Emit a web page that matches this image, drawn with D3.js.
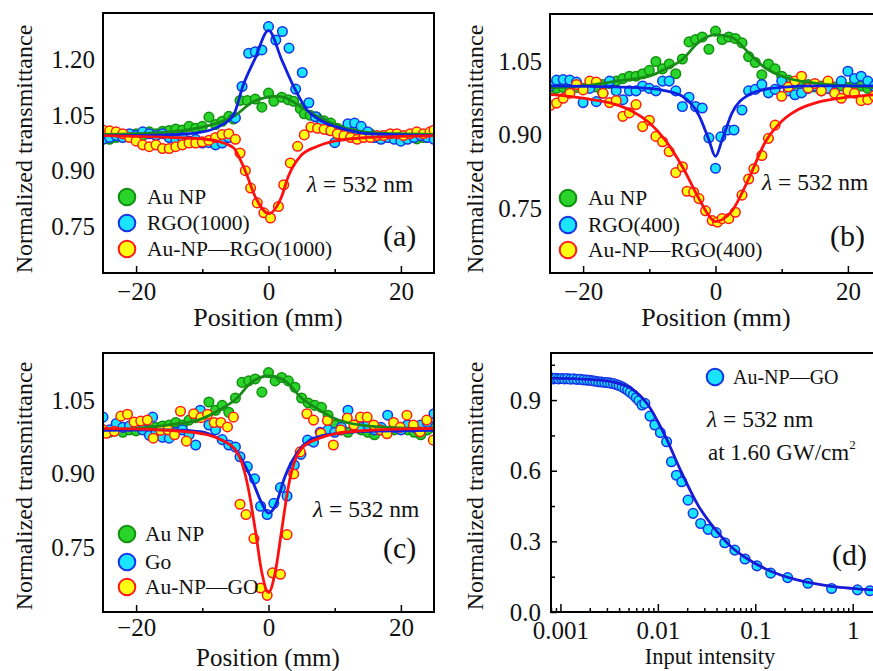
<!DOCTYPE html>
<html>
<head>
<meta charset="utf-8">
<script src="https://cdn.jsdelivr.net/npm/d3@7"></script>
<style>
  body { margin: 0; background: #fff; }
  svg { display: block; }
</style>
</head>
<body>
<svg id="fig" width="873" height="671"></svg>
<script>
// ---------- Panel (a): Au NP, RGO(1000), Au-NP—RGO(1000) ----------
const aAuNP = [[-25,0.99],[-24,0.985],[-23,0.99],[-22,0.998],[-21,0.995],[-20,1.0],[-19,0.995],[-18,1.005],[-17,1.0],[-16,1.007],[-15,1.009],[-14,1.013],[-13,1.01],[-12,1.02],[-11,1.015],[-10,1.02],[-9,1.045],[-8,1.025],[-7,1.034],[-6,1.047],[-5.3,1.04],[-4.3,1.09],[-3.2,1.09],[-2,1.094],[-1,1.072],[0,1.11],[0.8,1.088],[2,1.099],[3,1.092],[3.8,1.088],[4.8,1.068],[5.4,1.054],[6.3,1.05],[7.3,1.045],[8.4,1.035],[9.4,1.029],[10.4,1.015],[11.4,1.01],[12.4,1.005],[13.4,1.0],[14.4,0.995],[15.4,1.0],[16.4,0.99],[17.4,0.995],[18.4,0.99],[19.4,0.987],[20.4,0.99],[21.4,0.995],[22.4,0.986],[23.4,0.99],[24.4,0.993]];
const aRGO = [[-25,0.985],[-24,0.99],[-23,0.995],[-22,0.99],[-21,1.0],[-20,0.995],[-19,1.005],[-18,1.0],[-17,0.995],[-16,1.0],[-15,0.99],[-14,0.985],[-13,0.99],[-12,0.98],[-11,0.985],[-10,0.975],[-9,0.976],[-8,0.97],[-7,0.975],[-6,0.99],[-5,1.043],[-4,1.128],[-3,1.218],[-2,1.222],[-1,1.227],[0,1.29],[1.1,1.254],[2.1,1.277],[3.1,1.232],[4.1,1.121],[5.1,1.166],[6.1,1.084],[7.1,1.046],[8.1,1.03],[9.1,1.01],[10,0.976],[11,0.995],[12,1.027],[13,1.029],[14,1.02],[15,1.005],[16,0.99],[17,0.985],[18,0.99],[19,0.985],[20,0.98],[21,0.985],[22,0.99],[23,0.995],[24,0.99],[25,0.985]];
const aHybrid = [[-25,1.01],[-24,1.008],[-23,1.005],[-22,1.0],[-21,0.99],[-20,0.98],[-19,0.97],[-18,0.965],[-17,0.97],[-16,0.96],[-15,0.96],[-14,0.965],[-13,0.97],[-12,0.975],[-11,0.975],[-10,0.978],[-9,0.982],[-8,0.99],[-7,0.998],[-6,1.0],[-5,0.985],[-4.3,0.948],[-3.5,0.9],[-2.7,0.853],[-1.7,0.813],[-0.7,0.786],[0.3,0.772],[1.5,0.803],[2.3,0.862],[3.3,0.921],[4.4,0.966],[5.4,0.997],[6.4,1.018],[7.4,1.015],[8.4,1.012],[9.4,1.008],[10.4,1.0],[11.4,0.995],[12.4,0.99],[13.4,0.985],[14.4,0.99],[15.4,0.99],[16.4,0.995],[17.4,0.995],[18.4,1.0],[19.4,1.0],[20.4,0.995],[21.4,1.0],[22.4,1.005],[23.4,1.0],[24.4,1.005],[25,1.01]];
const aAuNPFit = [[-25,0.998],[-20,1.0],[-15,1.005],[-12.5,1.01],[-10,1.018],[-7.5,1.03],[-5,1.05],[-2.5,1.085],[0,1.1],[1,1.102],[2.5,1.098],[5,1.072],[7.5,1.046],[10,1.025],[12.5,1.011],[15,1.004],[20,1.0],[25,0.998]];
const aRGOFit = [[-25,0.995],[-15,0.997],[-10,1.005],[-7.5,1.02],[-5.3,1.05],[-3.8,1.133],[-2,1.205],[0,1.28],[2,1.2],[3.8,1.128],[5.8,1.065],[7.5,1.04],[10,1.02],[12.5,1.008],[15,1.0],[25,0.995]];
const aHybridFit = [[-25,0.995],[-20,0.993],[-15,0.99],[-10,0.986],[-7.5,0.979],[-5.3,0.962],[-3.8,0.912],[-1.8,0.822],[0,0.784],[2,0.831],[3,0.885],[4.8,0.939],[7.4,0.966],[9.9,0.98],[15,0.99],[20,0.993],[25,0.995]];

// ---------- Panel (b): Au NP, RGO(400), Au-NP—RGO(400) ----------
const bAuNP = [[-25,0.99],[-24,0.995],[-23,0.997],[-22,0.993],[-21,0.997],[-20,0.995],[-19,1.0],[-18,0.998],[-17,1.003],[-16,1.005],[-15,1.01],[-14,1.015],[-13,1.02],[-12,1.02],[-11,1.025],[-10,1.032],[-9,1.05],[-8,1.035],[-7,1.045],[-6,1.025],[-5,1.055],[-4,1.09],[-3,1.095],[-2,1.1],[-1,1.075],[0,1.112],[1,1.095],[2,1.1],[3,1.097],[4,1.088],[5,1.06],[6,1.048],[7,1.023],[8,1.045],[9,1.035],[10,1.02],[11,1.012],[12,1.005],[13,1.0],[14,1.003],[15,0.998],[16,1.0],[17,0.995],[18,0.998],[19,1.0],[20,0.997],[21,1.005],[22,1.0],[23,0.995],[24,0.998],[25,1.0]];
const bRGO = [[-25,1.0],[-24,1.012],[-23,1.013],[-22,1.012],[-21,1.008],[-20,0.966],[-19,0.995],[-18,0.968],[-17,0.985],[-16,1.01],[-15,0.99],[-14,0.972],[-13,0.99],[-12,0.99],[-11,1.0],[-10,0.995],[-9,0.99],[-8,1.01],[-7,1.01],[-6,0.99],[-5,0.958],[-4,0.977],[-3,0.958],[-2,0.955],[-1,0.894],[0,0.832],[0.8,0.896],[1.8,0.91],[2.8,0.91],[4,0.951],[5,0.99],[6,0.993],[7,1.003],[8,0.986],[9,0.993],[10,1.01],[11,0.99],[12,0.982],[13,0.986],[14,0.995],[15,1.0],[16,0.99],[17,0.995],[18,0.986],[19,1.01],[20,1.03],[21,1.015],[22,1.02],[23,1.01],[24,1.0],[25,1.005]];
const bHybrid = [[-25,0.96],[-24,0.965],[-23,0.975],[-22,0.985],[-21,1.003],[-20,0.992],[-19,1.01],[-18,1.008],[-17,0.985],[-16,0.966],[-15,0.97],[-14,0.938],[-13,0.945],[-12,0.962],[-11,0.917],[-10,0.93],[-9,0.897],[-8,0.886],[-7,0.866],[-6,0.823],[-5,0.835],[-4.3,0.785],[-3.3,0.783],[-2.5,0.77],[-1.5,0.745],[-0.5,0.725],[0.3,0.722],[1,0.729],[2,0.729],[3,0.742],[4,0.777],[5,0.81],[5.8,0.831],[7,0.858],[8,0.893],[9,0.92],[10,0.979],[11,0.998],[12,1.01],[13,1.02],[14,0.996],[15,1.005],[16,0.99],[17,1.01],[18,0.985],[19,0.975],[20,0.99],[21,0.985],[22,0.97],[23,0.972],[24,0.98],[25,0.985]];
const bAuNPFit = [[-25,0.996],[-20,1.0],[-15,1.01],[-10,1.02],[-7.5,1.035],[-5,1.054],[-2.5,1.09],[0,1.105],[2.5,1.099],[5,1.068],[7.5,1.037],[10,1.02],[15,1.006],[20,1.0],[25,0.996]];
const bRGOFit = [[-25,1.0],[-15,0.998],[-10,0.995],[-7.5,0.99],[-5,0.979],[-2.5,0.94],[-1,0.89],[0,0.856],[1,0.89],[2.5,0.945],[5,0.982],[7.5,0.993],[10,0.997],[15,1.0],[25,1.0]];
const bHybridFit = [[-25,0.983],[-20,0.975],[-15,0.962],[-12.5,0.948],[-10,0.925],[-7.5,0.888],[-5,0.835],[-2.5,0.77],[-1,0.735],[0,0.723],[1,0.727],[2.5,0.745],[5,0.81],[7.5,0.885],[10,0.928],[12.5,0.952],[15,0.965],[20,0.977],[25,0.983]];

// ---------- Panel (c): Au NP, GO, Au-NP—GO ----------
const cAuNP = [[-25,0.99],[-24,0.985],[-23,0.99],[-22,0.985],[-21,0.99],[-20,0.988],[-19,0.992],[-18,0.99],[-17,0.995],[-16,0.998],[-15,1.0],[-14,1.005],[-13,1.0],[-12,1.01],[-11,1.015],[-10,1.02],[-9,1.047],[-8,1.03],[-7,1.04],[-6,1.026],[-5,1.055],[-4,1.087],[-3,1.09],[-2,1.094],[-1,1.067],[0,1.107],[1,1.09],[2,1.097],[3,1.09],[4,1.077],[5,1.055],[6,1.045],[7,1.04],[8,1.036],[9,1.02],[10,1.0],[11,0.99],[12,0.985],[13,0.995],[14,0.99],[15,0.985],[16,0.98],[17,0.99],[18,0.985],[19,0.99],[20,0.995],[21,0.99],[22,0.985],[23,0.98],[24,0.99],[25,0.995]];
const cGO = [[-25,1.016],[-24,0.99],[-23,1.003],[-22,0.995],[-21,0.998],[-20,1.0],[-19,0.99],[-18,0.979],[-17.5,1.016],[-17,0.985],[-16,0.975],[-15,0.973],[-14,0.985],[-13,0.99],[-12,0.98],[-11,0.959],[-10.3,1.03],[-9,1.0],[-8,0.99],[-7,0.97],[-6,0.959],[-5,0.955],[-4.3,0.935],[-3.2,0.915],[-2.1,0.89],[-1.2,0.834],[-0.2,0.817],[0.8,0.84],[1.8,0.872],[2.8,0.855],[3.9,0.918],[4.9,0.94],[5.9,0.969],[6.8,0.965],[7.8,0.985],[9,0.99],[10,0.985],[11,0.995],[12,1.03],[13,1.0],[14,0.995],[15,1.0],[16,0.99],[17,0.995],[18,1.02],[19,0.995],[20,0.99],[21,1.0],[22,0.995],[23,1.0],[24,1.005],[25,1.023]];
const cHybrid = [[-25,0.99],[-24.5,0.983],[-23.3,0.987],[-22.3,1.018],[-21.3,1.022],[-20.3,1.006],[-19.3,1.008],[-18.3,1.01],[-17.4,0.973],[-16.3,0.989],[-15.2,0.99],[-14.2,0.98],[-13.3,1.028],[-12.4,0.967],[-11.3,1.023],[-10.2,1.015],[-9.2,1.022],[-8.2,1.005],[-7.2,1.005],[-6.2,0.996],[-5.3,1.016],[-4.3,0.838],[-3.4,0.817],[-2.2,0.768],[-1.2,0.667],[-0.2,0.652],[0.6,0.698],[1.8,0.695],[2.8,0.776],[3.8,0.9],[4.8,0.945],[5.8,1.023],[6.8,1.01],[7.9,0.983],[8.9,1.009],[9.8,0.959],[10.9,0.99],[11.9,1.014],[12.9,1.0],[13.9,1.016],[14.9,1.016],[15.9,1.0],[16.9,0.99],[17.9,0.982],[18.9,1.005],[19.9,0.995],[20.9,1.02],[21.9,1.0],[22.9,0.986],[23.9,1.01],[24.9,0.969]];
const cAuNPFit = [[-25,0.99],[-20,0.993],[-15,1.0],[-10,1.013],[-7.5,1.03],[-5,1.052],[-2.5,1.088],[0,1.1],[2.5,1.09],[5,1.055],[7.5,1.032],[10,1.013],[12.5,1.003],[15,0.998],[20,0.994],[25,0.992]];
const cGOFit = [[-25,0.989],[-15,0.99],[-10,0.986],[-7.5,0.972],[-5,0.949],[-2.5,0.888],[-1,0.84],[0,0.82],[1,0.834],[2.5,0.895],[5,0.955],[7.5,0.976],[10,0.982],[15,0.987],[25,0.989]];
const cHybridFit = [[-25,0.993],[-15,0.989],[-10,0.982],[-7.5,0.972],[-5,0.949],[-4,0.922],[-3,0.867],[-2,0.786],[-1,0.698],[0,0.658],[1,0.698],[2,0.786],[3,0.874],[4,0.928],[5,0.952],[7.5,0.972],[10,0.982],[15,0.989],[25,0.993]];

// ---------- Panel (d): Au-NP—GO versus input intensity ----------
const dHybrid = [[0.0008,0.995],[0.00085,0.99],[0.0009,0.993],[0.00096,0.99],[0.00103,0.992],[0.0011,0.99],[0.00118,0.991],[0.00127,0.989],[0.00137,0.99],[0.00148,0.988],[0.0016,0.988],[0.00173,0.986],[0.00187,0.985],[0.002,0.984],[0.00215,0.982],[0.0023,0.98],[0.00247,0.978],[0.00265,0.977],[0.00285,0.975],[0.00305,0.974],[0.00327,0.972],[0.0035,0.97],[0.00375,0.966],[0.004,0.962],[0.0043,0.956],[0.0046,0.949],[0.0049,0.942],[0.0052,0.933],[0.0056,0.922],[0.006,0.91],[0.0064,0.898],[0.00687,0.879],[0.00735,0.886],[0.0083,0.832],[0.0093,0.794],[0.0106,0.762],[0.0123,0.723],[0.0138,0.638],[0.0155,0.581],[0.0176,0.553],[0.0204,0.475],[0.023,0.419],[0.0275,0.376],[0.0328,0.351],[0.0397,0.337],[0.0486,0.294],[0.0616,0.263],[0.0785,0.225],[0.104,0.196],[0.144,0.165],[0.215,0.146],[0.347,0.122],[0.607,0.1],[1.12,0.094],[1.5,0.09]];
const dHybridFit = [[0.0008,0.993],[0.0015,0.99],[0.0025,0.985],[0.0036,0.975],[0.0053,0.95],[0.0079,0.88],[0.0118,0.75],[0.0174,0.595],[0.0259,0.453],[0.0383,0.354],[0.0569,0.276],[0.0843,0.224],[0.125,0.185],[0.185,0.156],[0.275,0.135],[0.41,0.12],[0.6,0.109],[0.9,0.102],[1.33,0.096],[2,0.093]];

// ---------- Tick values and labels ----------
const posMajorTicks = [-20, 0, 20];
const posMinorTicks = [-10, 10];
const aYTicks = [0.75, 0.90, 1.05, 1.20];
const bcYTicks = [0.75, 0.90, 1.05];
const dYTicks = [0.0, 0.3, 0.6, 0.9];
const dYMinorTicks = [0.15, 0.45, 0.75, 1.05];
const dXTicks = [0.001, 0.01, 0.1, 1];
const dXTickLabels = ["0.001", "0.01", "0.1", "1"];

// ---------- Styling ----------
const FONT = '"Liberation Serif", "Times New Roman", Times, serif';
const INK = "#111";
const GREEN = { fill: "#2ad42a", stroke: "#11900f", line: "#188a18" };
const BLUE  = { fill: "#1ae4ff", stroke: "#1733e6", line: "#1020e0" };
const RED   = { fill: "#ffff14", stroke: "#ff1a1a", line: "#ff1010" };

const svg = d3.select("#fig");

function styleAxis(g, size) {
  g.attr("font-family", FONT).attr("font-size", size);
  g.select(".domain").remove();
  g.selectAll(".tick line").attr("stroke", "#000").attr("stroke-width", 1.5);
  g.selectAll(".tick text").attr("fill", INK);
}

function drawPanel(p) {
  const x = (p.log ? d3.scaleLog() : d3.scaleLinear()).domain(p.xDomain).range([p.left, p.right]);
  const y = d3.scaleLinear().domain(p.yDomain).range([p.bottom, p.top]);

  const clipId = "clip-" + p.id;
  svg.append("clipPath").attr("id", clipId)
    .append("rect").attr("x", p.left).attr("y", p.top)
    .attr("width", p.right - p.left).attr("height", p.bottom - p.top);
  const plot = svg.append("g").attr("clip-path", `url(#${clipId})`);

  // measured points
  p.series.forEach(s => {
    plot.append("g").selectAll("circle").data(s.points).join("circle")
      .attr("cx", d => x(d[0])).attr("cy", d => y(d[1])).attr("r", 4.8)
      .attr("fill", s.color.fill).attr("stroke", s.color.stroke).attr("stroke-width", 1.5);
  });
  // fitted curves
  const line = d3.line().x(d => x(d[0])).y(d => y(d[1])).curve(d3.curveMonotoneX);
  p.series.forEach(s => {
    plot.append("path").datum(s.fit).attr("d", line)
      .attr("fill", "none").attr("stroke", s.color.line).attr("stroke-width", 2.8);
  });

  // x axis
  if (p.log) {
    const gx = svg.append("g").attr("transform", `translate(0,${p.bottom})`)
      .call(d3.axisBottom(x).tickValues(dXTicks)
        .tickFormat((d, i) => dXTickLabels[i]).tickSizeInner(-8).tickSizeOuter(0).tickPadding(p.xPad));
    styleAxis(gx, 25);
    const minor = x.ticks().filter(t => !dXTicks.includes(t) && Math.abs(Math.log10(t) - Math.round(Math.log10(t))) > 1e-6);
    const gm = svg.append("g").attr("transform", `translate(0,${p.bottom})`)
      .call(d3.axisBottom(x).tickValues(minor).tickFormat("").tickSizeInner(-4).tickSizeOuter(0));
    styleAxis(gm, 10);
  } else {
    const gx = svg.append("g").attr("transform", `translate(0,${p.bottom})`)
      .call(d3.axisBottom(x).tickValues(posMajorTicks).tickSizeInner(-7).tickSizeOuter(0).tickPadding(p.xPad));
    styleAxis(gx, 25);
    const gm = svg.append("g").attr("transform", `translate(0,${p.bottom})`)
      .call(d3.axisBottom(x).tickValues(posMinorTicks).tickFormat("").tickSizeInner(-4).tickSizeOuter(0));
    styleAxis(gm, 10);
  }

  // y axis
  const gy = svg.append("g").attr("transform", `translate(${p.left},0)`)
    .call(d3.axisLeft(y).tickValues(p.yTicks).tickFormat(d3.format(p.yFormat))
      .tickSizeInner(p.yTickLen).tickSizeOuter(0).tickPadding(p.yPad));
  styleAxis(gy, 25);
  if (p.yMinor) {
    const gym = svg.append("g").attr("transform", `translate(${p.left},0)`)
      .call(d3.axisLeft(y).tickValues(p.yMinor).tickFormat("").tickSizeInner(-4).tickSizeOuter(0));
    styleAxis(gym, 10);
  }

  // frame
  svg.append("rect").attr("x", p.left).attr("y", p.top)
    .attr("width", p.right - p.left).attr("height", p.bottom - p.top)
    .attr("fill", "none").attr("stroke", "#000").attr("stroke-width", 2);

  // axis titles
  svg.append("text").attr("x", p.xTitle[1]).attr("y", p.xTitle[2])
    .attr("text-anchor", "middle").attr("font-family", FONT).attr("font-size", p.xTitle[3])
    .attr("fill", INK).text(p.xTitle[0]);
  svg.append("text").attr("transform", `translate(${p.yTitleX},${p.yTitleY}) rotate(-90)`)
    .attr("text-anchor", "middle").attr("font-family", FONT).attr("font-size", 24)
    .attr("fill", INK).text("Normalized transmittance");

  // legend
  p.legend.rows.forEach((r, i) => {
    const cy = p.legend.y[i];
    svg.append("circle").attr("cx", p.legend.x).attr("cy", cy).attr("r", 8.3)
      .attr("fill", r.color.fill).attr("stroke", r.color.stroke).attr("stroke-width", 2);
    svg.append("text").attr("x", p.legend.x + p.legend.gap).attr("y", cy + 7)
      .attr("font-family", FONT).attr("font-size", p.legend.size).attr("fill", INK).text(r.label);
  });

  // wavelength note
  const lam = svg.append("text").attr("x", p.lambda[0]).attr("y", p.lambda[1])
    .attr("font-family", FONT).attr("font-size", 23.5).attr("fill", INK);
  lam.append("tspan").attr("font-style", "italic").text("λ");
  lam.append("tspan").text(" = 532 nm");

  // panel tag
  svg.append("text").attr("x", p.tag[1]).attr("y", p.tag[2])
    .attr("font-family", FONT).attr("font-size", 30).attr("fill", INK).text(p.tag[0]);
  return { x, y };
}

drawPanel({
  id: "a", left: 103, right: 434, top: 13, bottom: 273, xPad: 9,
  xDomain: [-25, 25], yDomain: [0.623, 1.327],
  yTicks: aYTicks, yFormat: ".2f", yTickLen: 0, yPad: 8,
  series: [
    { points: aAuNP, fit: aAuNPFit, color: GREEN },
    { points: aRGO, fit: aRGOFit, color: BLUE },
    { points: aHybrid, fit: aHybridFit, color: RED }
  ],
  xTitle: ["Position (mm)", 268, 326, 26], yTitleX: 32, yTitleY: 149,
  legend: { x: 127, y: [197, 223, 249], gap: 20, size: 21.5, rows: [
    { label: "Au NP", color: GREEN }, { label: "RGO(1000)", color: BLUE }, { label: "Au-NP—RGO(1000)", color: RED }] },
  lambda: [307, 192], tag: ["(a)", 383, 246]
});

drawPanel({
  id: "b", left: 550, right: 881, top: 14, bottom: 273, xPad: 9,
  xDomain: [-25, 25], yDomain: [0.618, 1.147],
  yTicks: bcYTicks, yFormat: ".2f", yTickLen: 0, yPad: 8,
  series: [
    { points: bAuNP, fit: bAuNPFit, color: GREEN },
    { points: bRGO, fit: bRGOFit, color: BLUE },
    { points: bHybrid, fit: bHybridFit, color: RED }
  ],
  xTitle: ["Position (mm)", 716, 326, 26], yTitleX: 483, yTitleY: 149,
  legend: { x: 568, y: [198, 225, 250], gap: 20, size: 21.5, rows: [
    { label: "Au NP", color: GREEN }, { label: "RGO(400)", color: BLUE }, { label: "Au-NP—RGO(400)", color: RED }] },
  lambda: [762, 190], tag: ["(b)", 830, 246]
});

drawPanel({
  id: "c", left: 103, right: 434, top: 353, bottom: 612, xPad: 6,
  xDomain: [-25, 25], yDomain: [0.618, 1.147],
  yTicks: bcYTicks, yFormat: ".2f", yTickLen: 0, yPad: 8,
  series: [
    { points: cAuNP, fit: cAuNPFit, color: GREEN },
    { points: cGO, fit: cGOFit, color: BLUE },
    { points: cHybrid, fit: cHybridFit, color: RED }
  ],
  xTitle: ["Position (mm)", 268, 665.5, 25], yTitleX: 32, yTitleY: 486,
  legend: { x: 127, y: [534, 562, 587], gap: 18, size: 21.5, rows: [
    { label: "Au NP", color: GREEN }, { label: "Go", color: BLUE }, { label: "Au-NP—GO", color: RED }] },
  lambda: [313, 517], tag: ["(c)", 383, 558]
});

drawPanel({
  id: "d", left: 551, right: 882, top: 353, bottom: 612, log: true, xPad: 9,
  xDomain: [0.0008, 2], yDomain: [0, 1.1],
  yTicks: dYTicks, yFormat: ".1f", yTickLen: -6, yPad: 10, yMinor: dYMinorTicks,
  series: [ { points: dHybrid, fit: dHybridFit, color: { fill: BLUE.fill, stroke: BLUE.stroke, line: "#1a1ad6" } } ],
  xTitle: ["Input intensity", 710, 663.5, 22.5], yTitleX: 483, yTitleY: 486,
  legend: { x: 715, y: [377], gap: 18, size: 20, rows: [ { label: "Au-NP—GO", color: BLUE }] },
  lambda: [707, 427], tag: ["(d)", 832, 565]
});

// intensity note for panel (d)
const note = svg.append("text").attr("x", 708).attr("y", 460)
  .attr("font-family", FONT).attr("font-size", 23).attr("fill", INK);
note.append("tspan").text("at 1.60 GW/cm");
note.append("tspan").attr("font-size", 13).attr("dy", -11).text("2");
</script>
</body>
</html>
